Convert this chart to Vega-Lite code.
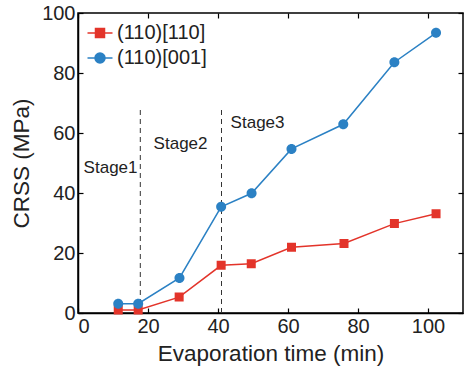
{
  "$schema": "https://vega.github.io/schema/vega-lite/v6.json",
  "width": 385,
  "height": 300,
  "autosize": {"type": "none"},
  "padding": {"left": 78, "top": 13, "right": 1, "bottom": 59},
  "background": "white",
  "config": {
    "font": "Liberation Sans",
    "view": {"stroke": "black", "strokeWidth": 1.5},
    "axis": {"grid": false, "domainColor": "black", "domainWidth": 1.5, "tickColor": "black", "tickWidth": 1.2, "labelColor": "#222", "titleColor": "#222", "labelFontSize": 20, "titleFontSize": 22.5, "titleFontWeight": "normal"}
  },
  "resolve": {"axis": {"x": "independent", "y": "independent"}},
  "datasets": {
    "series": [
      {"time": 11.5, "crss": 1.0, "orient": "(110)[110]"},
      {"time": 17.2, "crss": 1.0, "orient": "(110)[110]"},
      {"time": 28.9, "crss": 5.3, "orient": "(110)[110]"},
      {"time": 40.9, "crss": 15.9, "orient": "(110)[110]"},
      {"time": 49.5, "crss": 16.4, "orient": "(110)[110]"},
      {"time": 61.0, "crss": 21.9, "orient": "(110)[110]"},
      {"time": 76.0, "crss": 23.2, "orient": "(110)[110]"},
      {"time": 90.4, "crss": 29.8, "orient": "(110)[110]"},
      {"time": 102.3, "crss": 33.1, "orient": "(110)[110]"},
      {"time": 11.5, "crss": 3.1, "orient": "(110)[001]"},
      {"time": 17.2, "crss": 3.1, "orient": "(110)[001]"},
      {"time": 29.0, "crss": 11.7, "orient": "(110)[001]"},
      {"time": 40.9, "crss": 35.4, "orient": "(110)[001]"},
      {"time": 49.6, "crss": 39.9, "orient": "(110)[001]"},
      {"time": 61.0, "crss": 54.7, "orient": "(110)[001]"},
      {"time": 75.8, "crss": 62.9, "orient": "(110)[001]"},
      {"time": 90.4, "crss": 83.6, "orient": "(110)[001]"},
      {"time": 102.3, "crss": 93.4, "orient": "(110)[001]"}
    ],
    "bounds": [
      {"time": 17.8, "low": 0, "high": 68.5},
      {"time": 41.0, "low": 0, "high": 68.5}
    ],
    "stages": [
      {"time": 9.3, "crss": 48.5, "label": "Stage1"},
      {"time": 29.3, "crss": 56.5, "label": "Stage2"},
      {"time": 51.3, "crss": 63.2, "label": "Stage3"}
    ]
  },
  "layer": [
    {
      "data": {"name": "bounds"},
      "mark": {"type": "rule", "strokeDash": [5, 4], "color": "#333", "strokeWidth": 1},
      "encoding": {
        "x": {"field": "time", "type": "quantitative", "scale": {"domain": [0, 110]},
          "axis": {"orient": "top", "values": [0, 20, 40, 60, 80, 100], "tickSize": -5, "labels": false, "title": null, "domain": false}},
        "y": {"field": "low", "type": "quantitative", "scale": {"domain": [0, 100]},
          "axis": {"orient": "right", "values": [0, 20, 40, 60, 80, 100], "tickSize": -5, "labels": false, "title": null, "domain": false}},
        "y2": {"field": "high"}
      }
    },
    {
      "data": {"name": "stages"},
      "mark": {"type": "text", "fontSize": 17, "color": "#222", "font": "Liberation Sans"},
      "encoding": {
        "x": {"field": "time", "type": "quantitative", "axis": null},
        "y": {"field": "crss", "type": "quantitative", "axis": null},
        "text": {"field": "label"}
      }
    },
    {
      "data": {"name": "series"},
      "mark": {"type": "line", "strokeWidth": 1.5},
      "encoding": {
        "x": {"field": "time", "type": "quantitative", "axis": null},
        "y": {"field": "crss", "type": "quantitative", "axis": null},
        "color": {"field": "orient", "type": "nominal", "scale": {"domain": ["(110)[110]", "(110)[001]"], "range": ["#e3342a", "#2b81c4"]},
          "legend": {
            "title": null, "orient": "none", "legendX": 12, "legendY": 10, "padding": 0,
            "labelFontSize": 20, "labelColor": "#222", "labelOffset": 7, "rowPadding": 5,
            "symbolSize": 100,
            "encode": {"symbols": {"update": {"stroke": {"scale": "color", "field": "value"}, "strokeWidth": {"value": 1.5}}}}
          }}
      }
    },
    {
      "data": {"name": "series"},
      "mark": {"type": "point", "filled": true, "opacity": 1, "size": 100},
      "encoding": {
        "x": {
          "field": "time", "type": "quantitative",
          "scale": {"domain": [0, 110]},
          "axis": {"orient": "bottom", "values": [0, 20, 40, 60, 80, 100], "tickSize": -5, "labelPadding": 8, "title": "Evaporation time (min)", "titlePadding": 6}
        },
        "y": {
          "field": "crss", "type": "quantitative",
          "scale": {"domain": [0, 100]},
          "axis": {"orient": "left", "values": [0, 20, 40, 60, 80, 100], "tickSize": -5, "labelPadding": 8, "title": "CRSS (MPa)", "titlePadding": 8}
        },
        "color": {"field": "orient", "type": "nominal", "scale": {"domain": ["(110)[110]", "(110)[001]"], "range": ["#e3342a", "#2b81c4"]},
          "legend": {
            "title": null, "orient": "none", "legendX": 12, "legendY": 10, "padding": 0,
            "labelFontSize": 20, "labelColor": "#222", "labelOffset": 7, "rowPadding": 5,
            "symbolSize": 100,
            "encode": {"symbols": {"update": {"stroke": {"scale": "color", "field": "value"}, "strokeWidth": {"value": 1.5}}}}
          }
        },
        "shape": {"field": "orient", "type": "nominal",
          "scale": {"domain": ["(110)[110]", "(110)[001]"], "range": ["M-2.5,0H2.5M-0.9,-0.9H0.9V0.9H-0.9Z", "M-2.5,0H2.5M-1,0A1,1 0 1,1 1,0A1,1 0 1,1 -1,0Z"]},
          "legend": {
            "title": null, "orient": "none", "legendX": 12, "legendY": 10, "padding": 0,
            "labelFontSize": 20, "labelColor": "#222", "labelOffset": 7, "rowPadding": 5,
            "symbolSize": 100,
            "encode": {"symbols": {"update": {"stroke": {"scale": "color", "field": "value"}, "strokeWidth": {"value": 1.5}}}}
          }
        }
      }
    }
  ]
}
